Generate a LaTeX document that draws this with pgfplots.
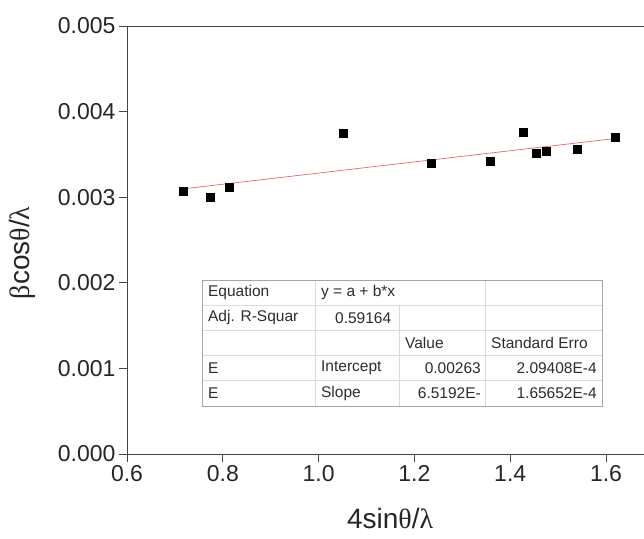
\documentclass[border=0pt]{standalone}
\usepackage{pgfplots}
\pgfplotsset{compat=1.18}
\usepackage{fontspec}
\setmainfont{Liberation Sans}
\newfontfamily\greek{Liberation Serif}
\definecolor{axgray}{RGB}{70,70,70}
\definecolor{fitred}{RGB}{228,105,105}
\definecolor{tabline}{RGB}{218,218,218}
\definecolor{tabborder}{RGB}{165,165,165}
\definecolor{tabtext}{RGB}{45,45,45}
\begin{document}
\begin{tikzpicture}
\useasboundingbox (0,0) rectangle (644pt,538pt);
\begin{axis}[
  at={(127pt,84pt)}, anchor=south west,
  scale only axis, width=517pt, height=428pt,
  xmin=0.6, xmax=1.6793, ymin=0, ymax=0.005,
  axis x line*=bottom, axis y line*=left,
  axis line style={axgray, line width=0.9pt},
  tick style={axgray, line width=0.9pt},
  major tick length=8pt, tick align=outside,
  xtick={0.6,0.8,1.0,1.2,1.4,1.6},
  ytick={0,0.001,0.002,0.003,0.004,0.005},
  scaled y ticks=false, scaled x ticks=false,
  xticklabel style={/pgf/number format/.cd, fixed, fixed zerofill, precision=1, assume math mode=true},
  yticklabel style={/pgf/number format/.cd, fixed, fixed zerofill, precision=3, assume math mode=true},
  ticklabel style={font=\fontsize{23}{27}\selectfont, text=black!85},
  xlabel={4sin{\greek θ}/{\greek λ}},
  ylabel={{\greek β}cos{\greek θ}/{\greek λ}},
  every axis x label/.style={at={(axis description cs:0.509,-0.176)}, anchor=south, inner sep=0pt, font=\fontsize{28}{32}\selectfont, text=black!85},
  every axis y label/.style={at={(axis description cs:-0.203,0.47)}, rotate=90, anchor=center, font=\fontsize{28}{32}\selectfont, text=black!85},
  clip=false,
]
\draw[axgray, line width=0.9pt] (rel axis cs:0,1) -- (rel axis cs:1,1);
\addplot[only marks, mark=square*, mark size=4pt, mark options={fill=black, draw=black}] coordinates {
  (0.717,0.003066) (0.774,0.003000) (0.814,0.003113) (1.052,0.003747)
  (1.234,0.003401) (1.358,0.003416) (1.427,0.003759) (1.455,0.003510)
  (1.476,0.003533) (1.540,0.003556) (1.619,0.003704)
};
\addplot[fitred, line width=0.7pt] coordinates {(0.717,0.0030974) (1.619,0.0036855)};
% fit table
\fill[white] (axis cs:0.7566,0.000561) rectangle (axis cs:1.5917,0.002033);
\draw[tabline, line width=0.6pt]
  (axis cs:0.7566,0.0017386) -- (axis cs:1.5917,0.0017386)
  (axis cs:0.7566,0.0014442) -- (axis cs:1.5917,0.0014442)
  (axis cs:0.7566,0.0011498) -- (axis cs:1.5917,0.0011498)
  (axis cs:0.7566,0.0008554) -- (axis cs:1.5917,0.0008554)
  (axis cs:0.9925,0.000561) -- (axis cs:0.9925,0.002033)
  (axis cs:1.1679,0.000561) -- (axis cs:1.1679,0.0017386)
  (axis cs:1.3474,0.000561) -- (axis cs:1.3474,0.002033);
\draw[tabborder, line width=0.8pt] (axis cs:0.7566,0.000561) rectangle (axis cs:1.5917,0.002033);
\begin{scope}[every node/.style={inner sep=0pt, font=\fontsize{15.5}{18}\selectfont, text=tabtext}]
\node[anchor=west] at (axis cs:0.7690,0.0018858) {Equation};
\node[anchor=west] at (axis cs:1.0049,0.0018858) {y = a + b*x};
\node[anchor=west] at (axis cs:0.7690,0.0015914) {Adj. R-Squar};
\node[anchor=east] at (axis cs:1.1520,0.0015914) {0.59164};
\node[anchor=west] at (axis cs:1.1803,0.0012970) {Value};
\node[anchor=west] at (axis cs:1.3598,0.0012970) {Standard Erro};
\node[anchor=west] at (axis cs:0.7690,0.0010026) {E};
\node[anchor=west] at (axis cs:1.0049,0.0010026) {Intercept};
\node[anchor=east] at (axis cs:1.3390,0.0010026) {0.00263};
\node[anchor=east] at (axis cs:1.5810,0.0010026) {2.09408E-4};
\node[anchor=west] at (axis cs:0.7690,0.0007082) {E};
\node[anchor=west] at (axis cs:1.0049,0.0007082) {Slope};
\node[anchor=east] at (axis cs:1.3390,0.0007082) {6.5192E-};
\node[anchor=east] at (axis cs:1.5810,0.0007082) {1.65652E-4};
\end{scope}
\end{axis}
\end{tikzpicture}
\end{document}
